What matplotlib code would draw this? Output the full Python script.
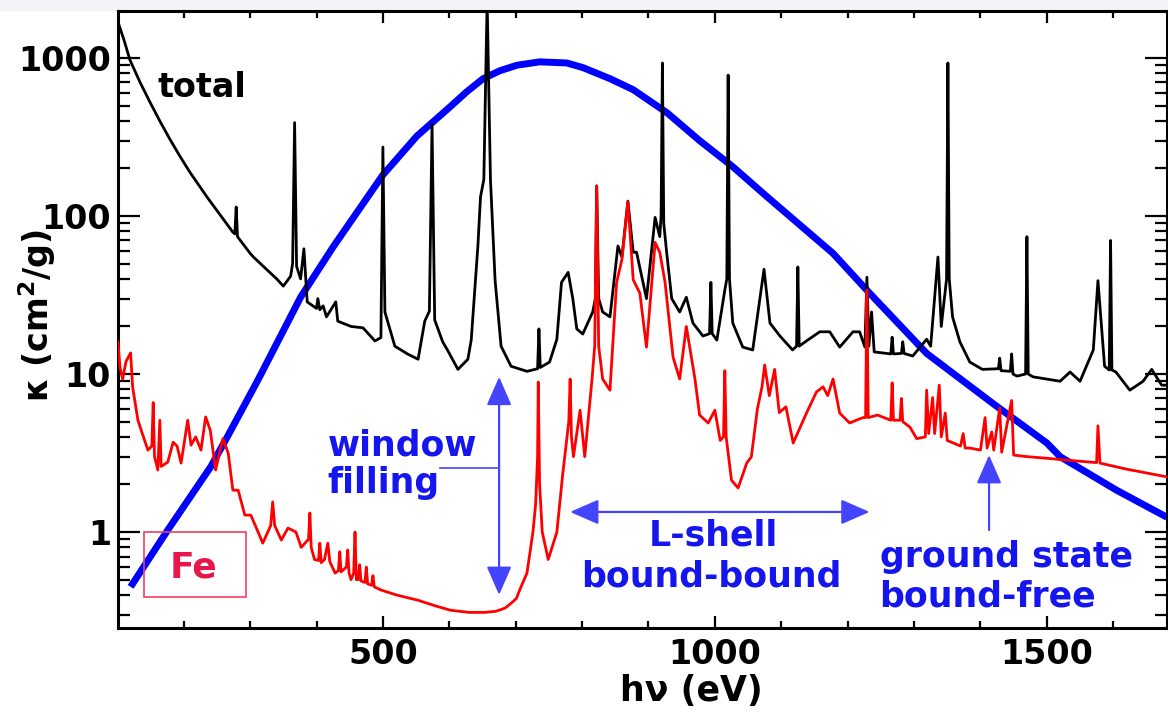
import matplotlib
matplotlib.use("Agg")
import matplotlib.pyplot as plt
from matplotlib.patches import Rectangle
from matplotlib.ticker import MultipleLocator, LogLocator, NullFormatter, FixedLocator

plt.rcParams['font.family'] = ['DejaVu Sans']
plt.rcParams['font.weight'] = 'bold'
plt.rcParams['mathtext.fontset'] = 'dejavusans'

# total opacity (black): photon energy (eV), kappa (cm^2/g)
total_ev = [101, 110, 119, 134, 149, 164, 179, 194, 209, 235, 274, 277, 279, 281, 300, 305, 340, 350,
            361, 364, 367, 370, 376, 381, 386, 400, 402, 405, 410, 415, 429, 432, 452, 470,
            488, 497, 500, 503, 518, 537, 553, 563, 570, 574, 578, 590, 598, 613, 628, 633,
            643, 647, 652, 657, 662, 669, 678, 693, 717, 733, 735, 737, 751, 762, 769, 779,
            786, 792, 801, 816, 820, 822, 825, 831, 842, 854, 860, 869, 877, 882, 897, 910,
            917, 919, 921, 923, 927, 935, 947, 957, 967, 982, 992, 994, 996, 1003, 1015, 1018,
            1020, 1022, 1027, 1042, 1057, 1074, 1083, 1098, 1117, 1123, 1125, 1127, 1138, 1158,
            1173, 1188, 1208, 1218, 1226, 1229, 1232, 1236, 1240, 1265, 1267, 1269, 1281, 1283,
            1285, 1298, 1319, 1325, 1336, 1341, 1349, 1351, 1353, 1358, 1369, 1384, 1403, 1427,
            1429, 1431, 1445, 1447, 1449, 1455, 1468, 1470, 1472, 1479, 1520, 1535, 1550, 1570,
            1577, 1587, 1594, 1596, 1598, 1604, 1625, 1645, 1658, 1673, 1682]
total_k = [1690, 1300, 971, 705, 527, 399, 307, 240, 190, 132, 79, 77, 114, 74, 58, 55, 40, 36,
           41.6, 50, 390, 48, 40, 62, 28.6, 26, 30, 25.5, 27, 23, 28.6, 21.6, 20, 19.6,
           16.2, 17, 273, 24.7, 15, 13.4, 12.4, 21.6, 25, 380, 22, 16, 14, 10.7, 12.4, 16.4,
           64, 132, 170, 2300, 170, 39, 15, 11.2, 10.4, 10.8, 19.3, 11, 11.9, 16.6, 38, 44,
           30, 19.3, 17.9, 24.7, 30, 155, 30, 24.7, 23, 64.6, 55, 124, 59, 59, 30, 98,
           74, 100, 930, 90, 61, 30, 24.7, 30.6, 21, 17.4, 18, 38, 18, 16.4, 34, 40,
           780, 40, 21, 14.8, 14.2, 46, 21, 17.4, 14.2, 15, 47.6, 15, 16.2, 18.5,
           18.5, 14.8, 18.5, 18.5, 14.8, 41, 15, 24.7, 13.8, 13.4, 17.1, 13.4, 13.5, 16,
           13.5, 13, 16.6, 15, 55, 20, 40, 930, 40, 23, 16, 11.9, 10.7, 10.8,
           12.6, 10.5, 10.4, 13.4, 10, 9.7, 10, 74, 10, 9.6, 9.0, 10.3, 9.0, 14.2,
           39, 11.2, 10.6, 70, 10.6, 10.3, 7.9, 9.0, 10.7, 8.5, 8.5]

# Fe contribution (red)
fe_ev = [101, 104, 108, 113, 120, 123, 131, 136, 146, 152, 154, 156, 161, 164, 166, 176,
         184, 190, 196, 206, 211, 218, 226, 233, 240, 248, 259, 267, 274, 282, 292, 301,
         312, 319, 331, 334, 337, 347, 357, 369, 377, 388, 390, 392, 397, 403, 405, 407,
         412, 417, 420, 428, 433, 435, 437, 445, 447, 449, 452, 456, 458, 460, 463, 465,
         467, 473, 475, 477, 483, 485, 487, 497, 520, 553, 580, 602,
         630, 653, 670, 684, 695, 701, 708, 717, 726, 730, 733, 734, 736, 740, 749, 762,
         771, 780, 782, 784, 787, 797, 804, 815, 819, 822, 825, 831, 842, 852, 860, 869,
         877, 887, 897, 910, 917, 925, 937, 947, 957, 970, 977, 990, 1000, 1008, 1013, 1015,
         1017, 1025, 1035, 1048, 1055, 1064, 1071, 1075, 1082, 1090, 1097, 1107, 1118, 1138,
         1153, 1163, 1170, 1178, 1188, 1203, 1223, 1227, 1229, 1231, 1245, 1265, 1267, 1269,
         1279, 1281, 1283, 1294, 1304, 1317, 1319, 1322, 1328, 1331, 1338, 1341, 1347, 1350,
         1359, 1370, 1374, 1377, 1384, 1400, 1407, 1410, 1417, 1420, 1429, 1432, 1447, 1450,
         1470, 1500, 1530, 1575, 1577, 1580, 1620, 1682]
fe_k = [16, 11, 9.3, 12, 13.6, 8.3, 5.1, 4.4, 3.3, 3.5, 6.6, 3.0, 2.47, 5.1, 2.6, 2.77,
        3.7, 3.5, 2.73, 5.1, 3.55, 4.0, 3.3, 5.35, 4.4, 2.47, 3.9, 3.16, 1.84, 1.84, 1.28, 1.28,
        1.0, 0.85, 1.1, 1.55, 1.1, 0.89, 1.06, 1.0, 0.8, 0.9, 1.32, 0.8, 0.67, 0.66, 0.85, 0.64,
        0.67, 0.85, 0.65, 0.55, 0.57, 0.75, 0.56, 0.6, 0.77, 0.55, 0.5, 0.55, 1.0, 0.5, 0.5, 0.62,
        0.49, 0.48, 0.6, 0.47, 0.46, 0.53, 0.45, 0.43, 0.40, 0.37, 0.34, 0.32,
        0.31, 0.31, 0.315, 0.33, 0.36, 0.38, 0.45, 0.55, 1.0, 1.5, 3.0, 8.9, 2.0, 1.0, 0.67, 1.0,
        2.36, 5.0, 9.3, 4.0, 3.0, 5.9, 3.0, 9.3, 15, 155, 15, 9.3, 7.9, 38, 53, 123,
        39.5, 32.5, 14.8, 68, 59, 38, 12.8, 9.3, 20, 9.3, 5.5, 4.9, 5.9, 3.8, 4.0, 10.5,
        4.0, 2.13, 1.9, 2.73, 3.0, 6.0, 8.3, 11.4, 7.3, 10.7, 5.7, 6.2, 3.66, 5.66,
        7.7, 8.3, 7.3, 9.3, 5.66, 4.9, 5.3, 5.3, 34, 5.3, 5.5, 5.1, 8.8, 5.1,
        5.1, 7.0, 5.0, 4.6, 3.9, 4.0, 7.9, 4.2, 7.1, 4.2, 8.5, 4.0, 5.66, 3.8,
        3.66, 3.5, 4.2, 3.4, 3.4, 3.3, 5.3, 3.4, 4.3, 3.3, 6.1, 3.2, 6.8, 3.07,
        3.0, 2.93, 2.85, 2.75, 4.7, 2.73, 2.5, 2.23]

# weighting function (blue)
wt_ev = [120, 176, 241, 267, 312, 376, 425, 500, 551, 601, 626, 651, 676, 702, 736, 777,
         801, 842, 877, 928, 977, 1027, 1078, 1178, 1233, 1319, 1419, 1500, 1520, 1605, 1681]
wt_k = [0.45, 1.03, 2.6, 4.1, 9.2, 30.6, 63.7, 182, 320, 490, 610, 740, 830, 900, 945, 930,
        870, 740, 630, 450, 300, 205, 133, 58, 32.5, 13.5, 6.5, 3.66, 3.0, 1.84, 1.24]

W, H = 1168, 712
fig = plt.figure(figsize=(W / 100, H / 100), dpi=100)
fig.patches.append(Rectangle((0, (H - 10) / H), 1, 10 / H, transform=fig.transFigure,
                             color='#f3f3f8', zorder=-5))
ax = fig.add_axes([118 / W, (H - 628) / H, (1167 - 118) / W, (628 - 11) / H])

ax.plot(wt_ev, wt_k, color='#0000ff', lw=5, zorder=2, solid_capstyle='butt')
ax.plot(total_ev, total_k, color='black', lw=2.0, zorder=3)
ax.plot(fe_ev, fe_k, color='#ff0000', lw=2.0, zorder=4)

ax.set_yscale('log')
ax.set_xlim(101, 1681)
ax.set_ylim(0.247, 1983)

ax.xaxis.set_major_locator(MultipleLocator(500))
ax.xaxis.set_minor_locator(MultipleLocator(100))
ax.yaxis.set_major_locator(FixedLocator([1, 10, 100, 1000]))
ax.yaxis.set_minor_locator(LogLocator(base=10, subs=range(2, 10)))
ax.yaxis.set_minor_formatter(NullFormatter())
ax.set_yticklabels(['1', '10', '100', '1000'])

ax.tick_params(axis='both', which='both', direction='in', top=True, right=True,
               labelsize=24, width=1.6)
ax.tick_params(axis='y', which='major', length=16, pad=5)
ax.tick_params(axis='y', which='minor', length=8.5)
ax.tick_params(axis='x', which='major', length=8.5, pad=7)
ax.tick_params(axis='x', which='minor', length=5)
for s in ax.spines.values():
    s.set_linewidth(2.2)

ax.set_xlabel('hν (eV)', fontsize=25, fontweight='bold', va='center')
ax.xaxis.set_label_coords(0.547, -0.102)
ax.set_ylabel(r'κ (cm$^{\mathbf{2}}$/g)', fontsize=24, fontweight='bold', va='center')
ax.yaxis.set_label_coords(-0.077, 0.506)

blue_txt = '#1515ee'
blue_arr = '#4444ff'
tkw = dict(color=blue_txt, fontsize=25, fontweight='bold', va='baseline')

ax.text(160, 566, 'total', color='black', fontsize=24, fontweight='bold', va='baseline')
ax.text(179, 0.512, 'Fe', color='#e8174a', fontsize=26, fontweight='bold', va='baseline')
ax.add_patch(Rectangle((140, 0.388), 154, 0.612, fill=False, edgecolor='#f04060', lw=1.2,
                       zorder=5))

ax.text(417, 3.07, 'window', ha='left', **tkw)
ax.text(417, 1.77, 'filling', ha='left', **tkw)
ax.plot([586, 672], [2.54, 2.54], color=blue_arr, lw=1.2)
ax.annotate('', xy=(675, 9.6), xytext=(675, 0.40),
            arrowprops=dict(arrowstyle='<|-|>,head_length=0.8,head_width=0.35',
                            color=blue_arr, lw=1.6, mutation_scale=22, shrinkA=0, shrinkB=0))

ax.text(997, 0.827, 'L-shell', ha='center', **tkw)
ax.text(994, 0.449, 'bound-bound', ha='center', **tkw)
ax.annotate('', xy=(782, 1.34), xytext=(1233, 1.34),
            arrowprops=dict(arrowstyle='<|-|>,head_length=0.8,head_width=0.35',
                            color=blue_arr, lw=1.6, mutation_scale=22, shrinkA=0, shrinkB=0))

ax.text(1248, 0.60, 'ground state', ha='left', **tkw)
ax.text(1248, 0.336, 'bound-free', ha='left', **tkw)
ax.annotate('', xy=(1413, 3.07), xytext=(1413, 1.03),
            arrowprops=dict(arrowstyle='-|>,head_length=0.8,head_width=0.35',
                            color=blue_arr, lw=1.6, mutation_scale=22, shrinkA=0, shrinkB=0))

fig.savefig('out.png', dpi=100)
